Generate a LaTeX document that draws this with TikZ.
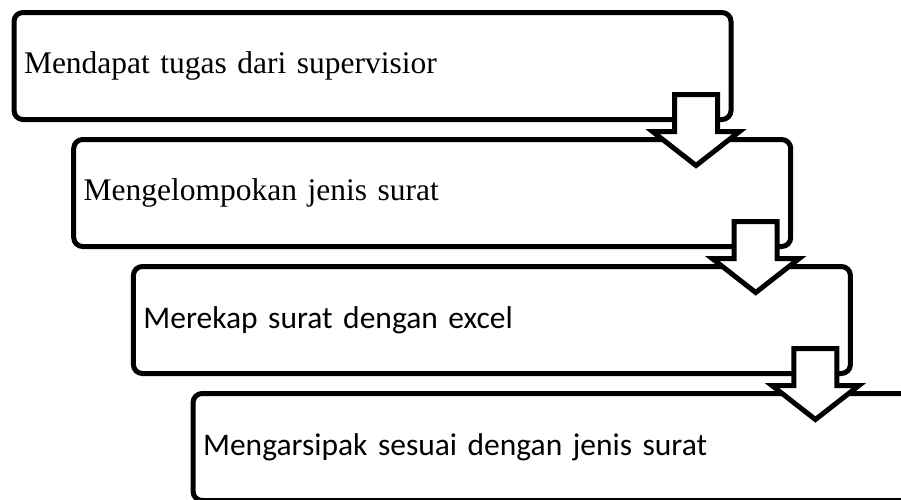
\documentclass[tikz,border=0pt]{standalone}
\usepackage{fontspec}
\setmainfont{Liberation Serif}
\newfontfamily\calibri{Carlito}
\usetikzlibrary{positioning, calc}
\usetikzlibrary{shapes.arrows}
\tikzset{
	stepbox/.style={draw, rectangle, rounded corners=9pt, line width=5pt, fill=white, outer sep=0pt, minimum width=717pt, minimum height=107pt, inner xsep=10pt, text width=697pt, align=left, font=\fontsize{31.5}{36}\selectfont},
	sansbox/.style={stepbox, font=\calibri\fontsize{31.5}{36}\selectfont},
	downarrow/.style={draw, single arrow, shape border rotate=270, single arrow head extend=22pt, single arrow tip angle=104, inner sep=19pt, minimum height=71pt, line width=5pt, fill=white, outer sep=0pt, anchor=tail},
}

\begin{document}
\begin{tikzpicture}[x=1pt, y=1pt, node distance=127pt]
	\useasboundingbox (0,0) rectangle (901,-499);
	\clip (0,0) rectangle (901,-499);
	
	\node (b1) [stepbox] at (372.5,-66) {Mendapat tugas dari supervisior};
	\node (b2) [stepbox, below of=b1, xshift=59.7pt] {Mengelompokan jenis surat};
	\node (b3) [sansbox, below of=b2, xshift=59.7pt] {Merekap surat dengan excel};
	\node (b4) [sansbox, below of=b3, xshift=59.7pt] {Mengarsipak sesuai dengan jenis surat};
	
	\begin{scope}
		\node (a1) [downarrow] at ($(b1.south east)+(-35,25)$) {};
		\node (a2) [downarrow] at ($(b2.south east)+(-35,25)$) {};
		\node (a3) [downarrow] at ($(b3.south east)+(-35,25)$) {};
	\end{scope}
\end{tikzpicture}
\end{document}
